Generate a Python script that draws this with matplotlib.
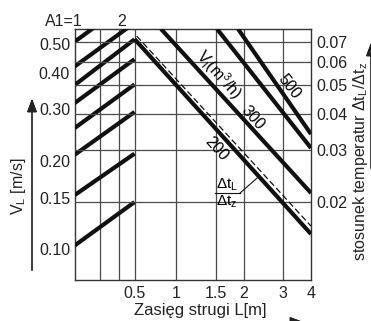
import numpy as np
import matplotlib.pyplot as plt
from matplotlib.ticker import NullLocator

plt.rcParams['font.family'] = ['Liberation Sans', 'DejaVu Sans']
plt.rcParams['mathtext.fontset'] = 'custom'
plt.rcParams['mathtext.rm'] = 'Liberation Sans'
plt.rcParams['mathtext.it'] = 'Liberation Sans:italic'
plt.rcParams['font.size'] = 11.5

# axis ticks
l_ticks = [0.5, 1, 1.5, 2, 3, 4]
l_labels = ['0.5', '1', '1.5', '2', '3', '4']
vl_ticks = [0.10, 0.15, 0.20, 0.30, 0.40, 0.50]
ratio_ticks = [0.02, 0.03, 0.04, 0.05, 0.06, 0.07]
l_grid = [0.5, 1, 1.5, 2, 3]
a1_grid = [1.5, 2]

# VL lines in the A1 part: value at A1=1 and at the L=0.5 border
vl_a1_first = [0.103, 0.153, 0.21, 0.259, 0.315, 0.363, 0.42, 0.51]
vl_a1_last = [0.145, 0.212, 0.294, 0.365, 0.445, 0.52, 0.592, 0.72]
a1_border = 2.573

# air volume lines V (m3/h): start and end as (L, dtL/dtz)
v_l_start = [0.5, 0.819, 1.524, 1.891]
v_r_start = [0.0718, 0.0777, 0.0777, 0.0777]
v_l_end = [4, 4, 4, 4]
v_r_end = [0.01554, 0.02144, 0.03051, 0.03405]

# dashed temperature ratio line
dash_l = [0.5265, 4]
dash_r = [0.0735, 0.01654]

K = 0.3705


def fwd(x):
    x = np.asarray(x, dtype=float)
    return np.where(x >= 1, np.log10(np.maximum(x, 1)), (x - 1) * K)


def inv(u):
    u = np.asarray(u, dtype=float)
    return np.where(u >= 0, 10 ** np.maximum(u, 0), 1 + u / K)


fig = plt.figure(figsize=(3.71, 3.21), dpi=100)
ax = fig.add_axes([74.5 / 371, 41 / 321, 236.5 / 371, 251 / 321])
ax.set_xscale('function', functions=(fwd, inv))
ax.set_xlim(-0.223, 4.0)
ax.set_yscale('log')
ax.set_ylim(0.07865, 0.5640)

axa = ax.twiny()
axa.set_xscale('log')
axa.set_xlim(1, 41.46)

axr = ax.twinx()
axr.set_yscale('log')
axr.set_ylim(0.01083, 0.0777)

grid_c = '#4a4a4a'
ink = '#111111'

for v in l_grid:
    ax.axvline(v, color=grid_c, lw=0.9, zorder=1)
for v in a1_grid:
    axa.axvline(v, color=grid_c, lw=0.9, zorder=1)
for v in ratio_ticks:
    axr.axhline(v, color=grid_c, lw=0.9, zorder=1)

for a, b in zip(vl_a1_first, vl_a1_last):
    axa.plot([1, a1_border], [a, b], color=ink, lw=3, solid_capstyle='butt', zorder=3)

for x0, y0, x1, y1 in zip(v_l_start, v_r_start, v_l_end, v_r_end):
    axr.plot([x0, x1], [y0, y1], color=ink, lw=3, solid_capstyle='butt', zorder=3)

axr.plot(dash_l, dash_r, color=ink, lw=0.9, dashes=(5, 2.5), zorder=3)

# labels along the lines
axr.text(1.556, 0.05412, r'V$_\mathrm{l}$(m$^3$/h)', rotation=-48, ha='center', va='center', rotation_mode='anchor')
axr.text(3.195, 0.04926, '500', rotation=-52, ha='center', va='center', rotation_mode='anchor')
axr.text(2.207, 0.03863, '300', rotation=-48, ha='center', va='center', rotation_mode='anchor')
axr.text(1.509, 0.03028, '200', rotation=-48, ha='center', va='center', rotation_mode='anchor')

# dtL / dtz marker
axr.text(1.69, 0.02285, r'$\Delta$t$_\mathrm{L}$', ha='center', va='center', fontsize=11)
axr.text(1.69, 0.01995, r'$\Delta$t$_\mathrm{z}$', ha='center', va='center', fontsize=11)
axr.plot([1.493, 1.931], [0.02144, 0.02144], color=ink, lw=0.8)
axr.plot([1.931, 2.299], [0.02144, 0.02412], color=ink, lw=0.8)

# ticks
ax.set_xticks(l_ticks, labels=l_labels)
ax.xaxis.set_minor_locator(NullLocator())
ax.set_yticks(vl_ticks, labels=['%.2f' % v for v in vl_ticks])
ax.yaxis.set_minor_locator(NullLocator())
ax.tick_params(axis='x', length=0, pad=4, colors='#222222')
ax.tick_params(axis='y', length=0, pad=3.2, colors='#222222')

axr.set_yticks(ratio_ticks, labels=['%.2f' % v for v in ratio_ticks])
axr.yaxis.set_minor_locator(NullLocator())
axr.tick_params(axis='y', length=0, pad=4.1, colors='#222222')

axa.set_xticks([])
axa.xaxis.set_minor_locator(NullLocator())
axa.annotate('A1=1', xy=(1, 1), xycoords=axa.get_xaxis_transform(), xytext=(6, 2.2),
             textcoords='offset points', ha='right', va='baseline', color='#222222')
axa.annotate('2', xy=(2, 1), xycoords=axa.get_xaxis_transform(), xytext=(2.5, 2.2),
             textcoords='offset points', ha='center', va='baseline', color='#222222')

for s in ax.spines.values():
    s.set_color('#333333')
    s.set_linewidth(1)
for t in (axa, axr):
    for s in t.spines.values():
        s.set_visible(False)

# axis titles and arrows
fig.text(200.5 / 371, 11 / 321, 'Zasięg strugi L[m]', ha='center', va='center', color='#222222', fontsize=12)
fig.text(18 / 371, 135 / 321, r'V$_\mathrm{L}$ [m/s]', rotation=90, ha='center', va='center', color='#222222')
fig.text(360 / 371, 160 / 321, r'stosunek temperatur $\Delta$t$_\mathrm{L}$/$\Delta$t$_\mathrm{z}$',
         rotation=90, ha='center', va='center', color='#222222')

arrow = dict(arrowstyle='-|>,head_length=0.8,head_width=0.3', color='#222222', lw=0.9, mutation_scale=10)
fig.add_artist(plt.annotate('', xy=(32 / 371, 225 / 321), xytext=(32 / 371, 48 / 321),
                            xycoords='figure fraction', arrowprops=arrow))
fig.add_artist(plt.annotate('', xy=(371 / 371, 281 / 321), xytext=(371 / 371, 150 / 321),
                            xycoords='figure fraction', arrowprops=arrow))
fig.add_artist(plt.annotate('', xy=(306 / 371, -1 / 321), xytext=(200 / 371, -1 / 321),
                            xycoords='figure fraction', arrowprops=arrow))

fig.savefig('out.png', dpi=100)
